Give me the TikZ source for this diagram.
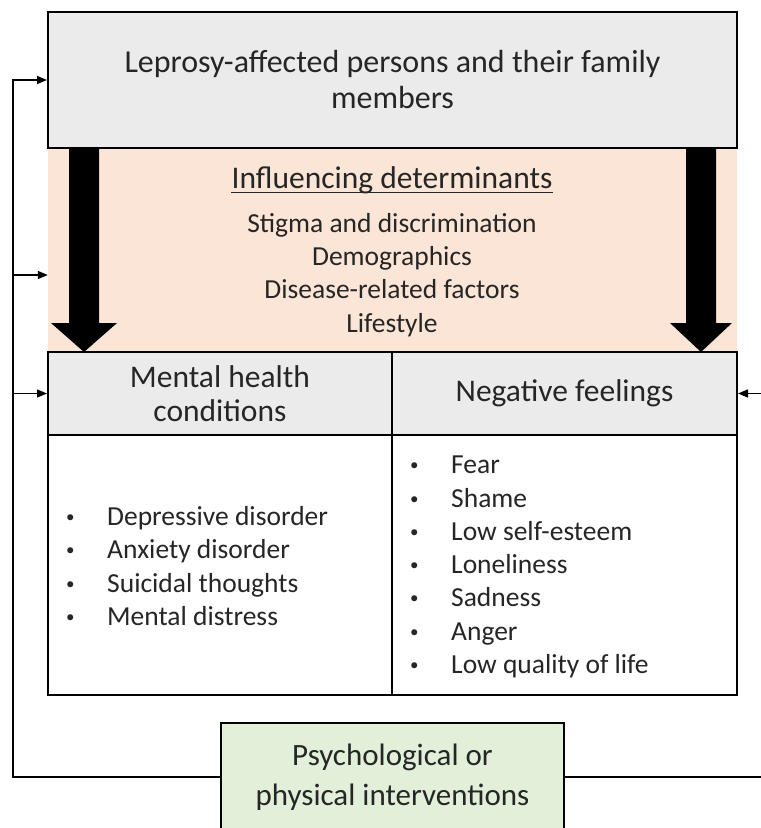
\documentclass[tikz,border=0pt]{standalone}
\usepackage{fontspec}
\setmainfont{Carlito}
\usetikzlibrary{arrows.meta}
\definecolor{boxgray}{HTML}{EBEBEB}
\definecolor{peach}{HTML}{FBE5D6}
\definecolor{lgreen}{HTML}{E2F0D9}
\definecolor{txt}{HTML}{262626}
\newcommand\itm[1]{\makebox[44pt][l]{\hspace*{3pt}\raisebox{3pt}{\fontsize{17}{17}\selectfont\textbullet}}#1}
\begin{document}
\begin{tikzpicture}[x=1pt,y=-1pt,
  box/.style={draw=black, line width=2pt, inner sep=0pt, text=txt, align=center},
  plain/.style={inner sep=0pt, text=txt, align=center},
  listnode/.style={inner sep=0pt, text=txt, align=left, anchor=west,
    font=\fontsize{27.5}{33.3}\selectfont},
  fb/.style={draw=black, line width=1.3pt, -{Triangle[length=10pt,width=8pt]}},
  bigarrow/.style={fill=black}]
\useasboundingbox (0,0) rectangle (761,828);
\clip (0,0) rectangle (761,828);

% peach band
\node[fill=peach, minimum width=689, minimum height=204, inner sep=0pt] (band) at (392.5,250) {};
\node[plain, font=\fontsize{31.5}{36}\selectfont] (head) at (392,180) {Influencing determinants};
\coordinate (ul) at (0,192.5);
\draw[txt, line width=1.8pt] (head.west |- ul) -- (head.east |- ul);
\node[plain, font=\fontsize{27.5}{33.3}\selectfont] (dets) at (392,275)
  {Stigma and discrimination\\Demographics\\Disease-related factors\\Lifestyle};

% top box
\node[box, fill=boxgray, minimum width=689, minimum height=136,
  font=\fontsize{32}{36}\selectfont] (top) at (392.5,80)
  {Leprosy-affected persons and their family\\members};

% table
\node[box, fill=boxgray, minimum width=344, minimum height=83,
  font=\fontsize{31.5}{34}\selectfont] (hl) at (220,393.5) {Mental health\\conditions};
\node[box, fill=boxgray, minimum width=345, minimum height=83,
  font=\fontsize{31.5}{34}\selectfont] (hr) at (564.5,393.5) {Negative feelings};
\node[box, fill=white, minimum width=344, minimum height=260] (bl) at (220,565) {};
\node[box, fill=white, minimum width=345, minimum height=260] (br) at (564.5,565) {};

\node[listnode] (ll) at (63,566)
  {\itm{Depressive disorder}\\\itm{Anxiety disorder}\\\itm{Suicidal thoughts}\\\itm{Mental distress}};
\node[listnode] (rl) at (407,567)
  {\itm{Fear}\\\itm{Shame}\\\itm{Low self-esteem}\\\itm{Loneliness}\\\itm{Sadness}\\\itm{Anger}\\\itm{Low quality of life}};

% big arrows
\fill[bigarrow] (69,149) -- (99,149) -- (99,323) -- (117,323) -- (84,352) -- (51,323) -- (69,323) -- cycle;
\fill[bigarrow] (686,149) -- (716,149) -- (716,323) -- (732,323) -- (701,352) -- (670,323) -- (686,323) -- cycle;

% green box
\node[box, fill=lgreen, minimum width=343, minimum height=108,
  font=\fontsize{31}{40}\selectfont] (green) at (392.5,777)
  {Psychological or\\physical interventions};

% feedback connectors
\coordinate (corner) at (13,777);
\coordinate (mid) at (13,275);
\coordinate (rightend) at (761,777);
\coordinate (rightin) at (761,393.5);
\draw[fb] (green.west) -- (corner) |- (top.west);
\draw[fb] (mid) -- (band.west |- mid);
\draw[fb] (corner |- hl.west) -- (hl.west);
\draw[draw=black, line width=1.3pt] (green.east) -- (rightend);
\draw[fb] (rightin) -- (hr.east);
\end{tikzpicture}
\end{document}
